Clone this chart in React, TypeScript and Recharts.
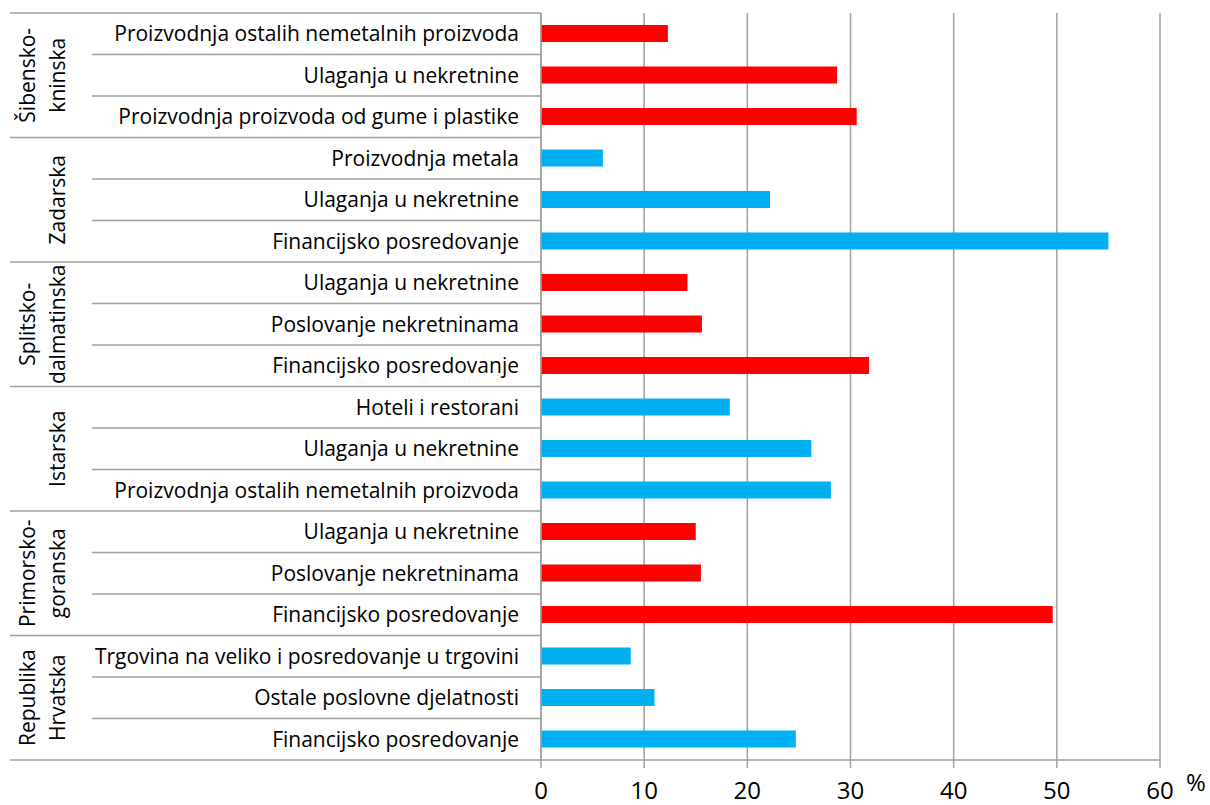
import React from 'react';
import { BarChart, Bar, XAxis, YAxis, CartesianGrid, Cell } from 'recharts';

const categories = [
  'Proizvodnja ostalih nemetalnih proizvoda',
  'Ulaganja u nekretnine',
  'Proizvodnja proizvoda od gume i plastike',
  'Proizvodnja metala',
  'Ulaganja u nekretnine',
  'Financijsko posredovanje',
  'Ulaganja u nekretnine',
  'Poslovanje nekretninama',
  'Financijsko posredovanje',
  'Hoteli i restorani',
  'Ulaganja u nekretnine',
  'Proizvodnja ostalih nemetalnih proizvoda',
  'Ulaganja u nekretnine',
  'Poslovanje nekretninama',
  'Financijsko posredovanje',
  'Trgovina na veliko i posredovanje u trgovini',
  'Ostale poslovne djelatnosti',
  'Financijsko posredovanje',
];

const values = [12.3, 28.7, 30.6, 6.0, 22.2, 55.0, 14.2, 15.6, 31.8, 18.3, 26.2, 28.1, 15.0, 15.5, 49.6, 8.7, 11.0, 24.7];

const regionLines = [
  ['Šibensko-', 'kninska'],
  ['Zadarska'],
  ['Splitsko-', 'dalmatinska'],
  ['Istarska'],
  ['Primorsko-', 'goranska'],
  ['Republika', 'Hrvatska'],
];

const groupColors = ['#FF0000', '#00B0F0', '#FF0000', '#00B0F0', '#FF0000', '#00B0F0'];

const xTicks = [0, 10, 20, 30, 40, 50, 60];

const data = categories.map((c, i) => ({ id: String(i), name: c, value: values[i] }));

const FONT = "'Open Sans', 'Noto Sans', sans-serif";
const GRID = '#a0a0a0';
const PLOT_TOP = 13;
const PLOT_BOTTOM = 760;
const PLOT_LEFT = 541;
const BAND = (PLOT_BOTTOM - PLOT_TOP) / categories.length;
const LABEL_SIZE = 21;

function CategoryTick(props: any) {
  const { y, payload } = props;
  const i = Number(payload.value);
  const els: any[] = [];
  els.push(
    <text key="t" x={PLOT_LEFT - 22} y={y} dy="0.35em" textAnchor="end" fontSize={LABEL_SIZE} fill="#000" fontFamily={FONT}>
      {categories[i]}
    </text>
  );
  const bottomStart = i % 3 === 2 ? 10 : 92;
  els.push(<line key="lb" x1={bottomStart} x2={PLOT_LEFT} y1={y + BAND / 2} y2={y + BAND / 2} stroke={GRID} strokeWidth={1.5} />);
  if (i === 0) {
    els.push(<line key="lt" x1={10} x2={PLOT_LEFT} y1={y - BAND / 2} y2={y - BAND / 2} stroke={GRID} strokeWidth={1.5} />);
  }
  if (i % 3 === 1) {
    const lines = regionLines[Math.floor(i / 3)];
    const baseXs = lines.length === 2 ? [35, 65] : [65];
    lines.forEach((ln, k) => {
      els.push(
        <g key={'r' + k} transform={`translate(${baseXs[k]}, ${y}) rotate(-90)`}>
          <text x={0} y={0} textAnchor="middle" fontSize={LABEL_SIZE} fill="#000" fontFamily={FONT}>
            {ln}
          </text>
        </g>
      );
    });
  }
  return <g>{els}</g>;
}

function XTick(props: any) {
  const { x, y, payload } = props;
  return (
    <text x={x} y={y} dy="0.75em" textAnchor="middle" fontSize={24} fill="#000" fontFamily={FONT}>
      {payload.value}
    </text>
  );
}

export default function App() {
  return (
    <div style={{ position: 'absolute', left: 0, top: 0, background: '#fff' }}>
      <BarChart
        width={1210}
        height={805}
        layout="vertical"
        data={data}
        margin={{ top: PLOT_TOP, right: 50, bottom: 0, left: 0 }}
        barSize={17}
        style={{ fontFamily: FONT }}
      >
        <CartesianGrid horizontal={false} vertical={true} stroke={GRID} strokeWidth={1.5} />
        <XAxis
          type="number"
          domain={[0, 60]}
          ticks={xTicks}
          interval={0}
          height={45}
          tickSize={8}
          tickMargin={13}
          axisLine={{ stroke: GRID, strokeWidth: 1.5 }}
          tickLine={{ stroke: GRID, strokeWidth: 1.5 }}
          tick={<XTick />}
          label={{ value: '%', position: 'right', offset: 26, fontSize: 24, fill: '#000', fontFamily: FONT }}
        />
        <YAxis
          type="category"
          dataKey="id"
          width={PLOT_LEFT}
          interval={0}
          tickSize={0}
          tickMargin={22}
          axisLine={{ stroke: GRID, strokeWidth: 1.5 }}
          tickLine={false}
          tick={<CategoryTick />}
        />
        <Bar dataKey="value" isAnimationActive={false}>
          {data.map((d, i) => (
            <Cell key={i} fill={groupColors[Math.floor(i / 3)]} />
          ))}
        </Bar>
      </BarChart>
    </div>
  );
}
